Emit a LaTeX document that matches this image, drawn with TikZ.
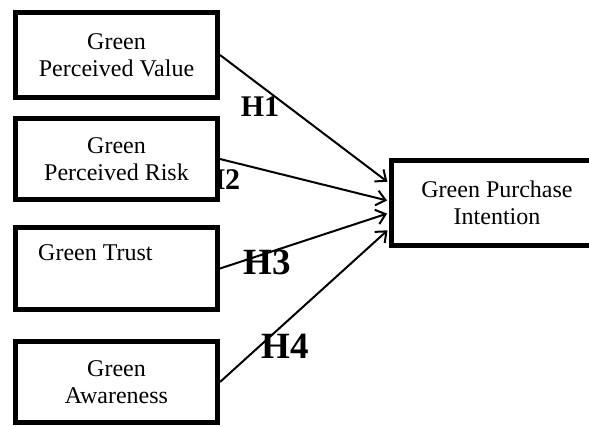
\documentclass[tikz,border=0pt]{standalone}
\usepackage{fontspec}
\setmainfont{Liberation Serif}
\usetikzlibrary{arrows.meta,positioning}

\begin{document}
\begin{tikzpicture}[x=1pt, y=1pt,
	    box/.style={draw, line width=5pt, fill=white, minimum width=202pt, minimum height=82pt,
	        align=center, font=\fontsize{24}{27}\selectfont, inner sep=0pt},
	    hyp/.style={font=\fontsize{30}{30}\selectfont\bfseries, inner sep=0pt},
	    bighyp/.style={hyp, font=\fontsize{37}{37}\selectfont\bfseries},
	    arr/.style={line width=2pt, -{Straight Barb[length=9pt,width=15pt]}, shorten >=2pt}]
	\useasboundingbox (0,0) rectangle (589,426);

	% hypothesis labels (under the boxes)
	\node[hyp] (h1) at (260,319) {H1};
	\node[hyp] (h2) at (221,246) {H2};
	\node[bighyp] (h3) at (267,164) {H3};
	\node[bighyp] (h4) at (285,80) {H4};

	% constructs
	\node[box, minimum height=85pt] (value) at (116.5,371) {Green\\Perceived Value};
	\node[box, minimum height=81pt] (risk) at (116.5,267) {Green\\Perceived Risk};
	\node[box] (trust) at (116.5,157.5) {};
	\node[anchor=west, inner sep=0pt, font=\fontsize{24}{27}\selectfont] (trusttxt) at (38,173) {Green Trust};
	\node[box, minimum height=81pt] (aware) at (116.5,44) {Green\\Awareness};

	\node[box, minimum width=211pt, minimum height=85pt] (intent) at (497,223) {Green Purchase\\Intention};

	% paths
	\draw[arr] (value.east) -- ([yshift=20pt]intent.west);
	\draw[arr] (risk.east) -- ([yshift=2pt]intent.west);
	\draw[arr] (trust.east) -- ([yshift=-10pt]intent.west);
	\draw[arr] (aware.east) -- ([yshift=-26pt]intent.west);
\end{tikzpicture}
\end{document}
